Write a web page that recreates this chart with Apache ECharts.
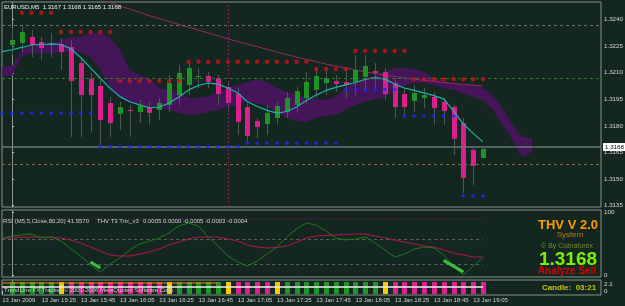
<!DOCTYPE html>
<html>
<head>
<meta charset="utf-8">
<script src="https://cdn.jsdelivr.net/npm/echarts@6.0.0/dist/echarts.min.js"></script>
<style>
html,body{margin:0;padding:0;background:#13261f;overflow:hidden;}
#chart{width:625px;height:306px;}
</style>
</head>
<body>
<div id="chart"></div>
<script>
// ---------- DATA ----------
const candleOpen = [1.32257,1.32268,1.32302,1.32274,1.32257,1.32262,1.32245,1.32155,1.32065,1.32025,
  1.31929,1.31867,1.31890,1.31878,1.31901,1.31890,1.31918,1.31974,1.32031,1.32076,
  1.32082,1.32070,1.32019,1.31980,1.31906,1.31827,1.31810,1.31844,1.31878,1.31918,
  1.31957,1.32003,1.32042,1.32053,1.32048,1.32048,1.32076,1.32110,1.32104,1.32042,
  1.31980,1.31940,1.31957,1.31963,1.31935,1.31906,1.31816,1.31664,1.31618];
const candleClose = [1.32285,1.32330,1.32257,1.32240,1.32268,1.32217,1.32053,1.31974,1.31974,1.31833,
  1.31816,1.31906,1.31887,1.31912,1.31873,1.31929,1.32042,1.32099,1.32127,1.32082,
  1.32048,1.31980,1.31929,1.31822,1.31743,1.31793,1.31873,1.31912,1.31957,1.31997,
  1.32048,1.32082,1.32070,1.32036,1.32031,1.32116,1.32138,1.32099,1.31980,1.31906,
  1.31906,1.31986,1.31974,1.31901,1.31884,1.31726,1.31505,1.31573,1.31669];
const candleLow = [1.32200,1.32217,1.32189,1.32172,1.32189,1.32116,1.31737,1.31737,1.31765,1.31686,
  1.31737,1.31777,1.31737,1.31816,1.31805,1.31833,1.31878,1.31918,1.31974,1.32014,
  1.32014,1.31918,1.31878,1.31748,1.31709,1.31731,1.31748,1.31805,1.31844,1.31873,
  1.31918,1.31957,1.31974,1.31991,1.31957,1.31974,1.31991,1.32014,1.31946,1.31844,
  1.31861,1.31878,1.31901,1.31805,1.31805,1.31635,1.31421,1.31466,1.31618];
const candleHigh = [1.32353,1.32370,1.32342,1.32302,1.32325,1.32296,1.32285,1.32183,1.32099,1.32059,
  1.31963,1.31935,1.31918,1.31946,1.31935,1.31957,1.32087,1.32144,1.32155,1.32127,
  1.32104,1.32087,1.32048,1.32014,1.31929,1.31844,1.31918,1.31935,1.31991,1.32019,
  1.32104,1.32127,1.32127,1.32087,1.32127,1.32200,1.32200,1.32155,1.32127,1.32070,
  1.32014,1.32031,1.32014,1.31991,1.31957,1.31918,1.31844,1.31680,1.31675];

// fast MA (cyan), bars -1..48
const maFast = [1.32219,1.32230,1.32243,1.32257,1.32261,1.32262,1.32260,1.32235,1.32186,1.32128,
  1.32069,1.32012,1.31965,1.31936,1.31918,1.31902,1.31905,1.31929,1.31963,1.32003,
  1.32028,1.32042,1.32036,1.32014,1.31986,1.31936,1.31909,1.31887,1.31872,1.31881,
  1.31906,1.31943,1.31974,1.32000,1.32017,1.32031,1.32045,1.32062,1.32072,1.32064,
  1.32036,1.32014,1.32000,1.31986,1.31971,1.31952,1.31884,1.31810,1.31757,1.31709];
// slow MA (maroon), bars 8..48
const maSlow = [1.32531,1.32511,1.32496,1.32477,1.32460,1.32442,1.32423,1.32406,1.32390,1.32373,
  1.32357,1.32341,1.32325,1.32308,1.32292,1.32276,1.32262,1.32247,1.32232,1.32217,
  1.32202,1.32189,1.32175,1.32163,1.32149,1.32138,1.32127,1.32115,1.32105,1.32096,
  1.32087,1.32079,1.32070,1.32063,1.32057,1.32051,1.32045,1.32039,1.32034,1.32030,1.32025];
// resistance dots (red), bars 1..48
const redDots = [1.32439,1.32439,1.32439,1.32439,
  1.32330,1.32330,1.32330,1.32330,1.32330,1.32330,
  1.32053,1.32053,1.32053,1.32053,1.32053,1.32053,1.32053,
  1.32162,1.32162,1.32162,1.32162,1.32162,1.32162,1.32162,1.32162,1.32162,1.32162,1.32162,1.32162,1.32162,
  1.32121,1.32121,1.32121,1.32121,
  1.32223,1.32223,1.32223,1.32223,1.32223,1.32223,
  1.32063,1.32063,1.32063,1.32063,1.32063,1.32063,1.32063,1.32063];
// support dots (blue), bars -1..48
const blueDots = [1.31873,1.31873,1.31873,1.31873,1.31873,1.31873,1.31873,1.31873,1.31873,1.31873,
  1.31682,1.31682,1.31682,1.31682,1.31682,1.31682,1.31682,1.31682,1.31682,1.31682,1.31682,1.31682,1.31682,1.31682,1.31682,
  1.31701,1.31701,1.31701,1.31701,1.31701,1.31701,1.31701,1.31701,1.31701,1.31701,
  1.32006,1.32006,1.32006,1.32006,1.32006,1.32006,
  1.31856,1.31856,1.31856,1.31856,1.31856,1.31856,
  1.31404,1.31404,1.31404];
// cloud, bars -1..53
const bandUpper = [1.32138,1.32138,1.32229,1.32251,1.32262,1.32268,1.32285,1.32302,1.32302,1.32325,
  1.32325,1.32296,1.32229,1.32116,1.32087,1.32070,1.32014,1.32003,1.31986,1.31957,
  1.31957,1.31969,1.31986,1.32014,1.32031,1.32048,1.32065,1.32048,1.32014,1.31991,
  1.31974,1.31963,1.31952,1.31946,1.31969,1.32014,1.32048,1.32070,1.32087,1.32104,
  1.32127,1.32127,1.32121,1.32104,1.32070,1.32053,1.32042,1.32036,1.32031,1.32014,
  1.31974,1.31901,1.31805,1.31737,1.31731];
const bandLower = [1.32076,1.32082,1.32195,1.32212,1.32212,1.32212,1.32217,1.32217,1.32217,1.32189,
  1.32116,1.32019,1.31963,1.31935,1.31918,1.31901,1.31901,1.31890,1.31873,1.31861,
  1.31867,1.31878,1.31890,1.31906,1.31918,1.31935,1.31929,1.31912,1.31873,1.31844,
  1.31827,1.31822,1.31844,1.31856,1.31861,1.31890,1.31918,1.31935,1.31952,1.31963,
  1.32003,1.32025,1.32042,1.32042,1.32031,1.32014,1.32003,1.31980,1.31963,1.31946,
  1.31890,1.31805,1.31720,1.31624,1.31652];
// horizontal levels in the price window
const levelGray = 1.32370, levelGreen = 1.32070, levelOrange = 1.31584, lastPrice = 1.3168;
const markedBar = 22;

// oscillator window, bars -1..48
const oscMain = [59.1,62.2,63.8,65.4,59.1,60.7,54.4,41.9,30.9,16.8,
  5.8,18.4,27.8,40.3,49.7,54.4,59.1,67.0,77.9,82.6,
  77.9,60.7,46.6,30.9,21.5,15.2,23.1,34.0,45.0,60.7,
  73.2,82.6,79.5,70.1,59.1,56.0,57.5,60.7,51.3,40.3,
  29.3,34.0,41.9,45.0,43.4,32.5,15.2,1.1,15.2,27.8];
const oscSignal = [59.1,59.1,60.0,60.7,60.7,60.7,59.1,56.0,51.3,45.0,
  38.7,32.5,30.9,30.9,34.0,37.2,41.9,48.1,52.8,57.5,
  60.7,60.7,60.7,57.5,54.4,48.1,45.0,43.4,44.2,46.6,
  52.8,59.1,62.2,63.0,63.8,64.6,65.4,65.4,62.2,59.1,
  56.0,52.8,49.7,46.6,45.0,40.3,35.6,32.5,29.3,29.3];
const oscHiliteA = [[8,21.5],[9,12.1]];
const oscHiliteB = [[44,24.0],[45,15.0],[46,5.8]];
const oscLevels = [88.8, 56.7, 17.6];

// trend bars, bars 0..48 (G green, M magenta, Y yellow)
const trendColors = ['G','G','G','G','G','Y','M','M','M','M','M','M','M','M','M','M','Y','G','G','G','G','G','Y','M','M','M','M','Y',
  'G','G','G','G','G','G','G','G','G','G','Y','M','M','M','M','M','M','M','M','M','M'];

// axis labels
const priceTicks = [1.3135,1.3150,1.3165,1.3180,1.3195,1.3210,1.3225,1.3240];
const timeLabelBars = [-1,3,7,11,15,19,23,27,31,35,39,43,47];
const timeLabels = ['13 Jan 2009','13 Jan 15:25','13 Jan 15:45','13 Jan 16:05','13 Jan 16:25','13 Jan 16:45',
  '13 Jan 17:05','13 Jan 17:25','13 Jan 17:45','13 Jan 18:05','13 Jan 18:25','13 Jan 18:45','13 Jan 19:05'];

// ---------- BUILD ----------
const candleBars = Array.from({length: 49}, (_, i) => i);
const lineBars = Array.from({length: 50}, (_, i) => i - 1);
const slowBars = Array.from({length: 41}, (_, i) => i + 8);
const redBars = Array.from({length: 48}, (_, i) => i + 1);
const bandBars = Array.from({length: 55}, (_, i) => i - 1);

const FONT = 'Liberation Sans';
const BG = '#13261f';
const FRAME = '#8a928e';
const GREEN = '#1f9426', MAG = '#dc1f8e', YEL = '#f2cc00';
const colorMap = {G: GREEN, M: MAG, Y: YEL};

const xMin = -1.02, xMax = 60.03;

const candleData = candleBars.map((b, i) => [b, candleOpen[i], candleClose[i], candleLow[i], candleHigh[i]]);
const zip = (xs, ys) => xs.map((x, i) => [x, ys[i]]);

function xAxisCfg(idx, showLabels) {
  const a = {type: 'value', gridIndex: idx, min: xMin, max: xMax,
    axisLine: {show: false}, splitLine: {show: false},
    axisTick: {show: false}, axisLabel: {show: false}};
  if (showLabels) {
    a.position = 'bottom';
    a.axisTick = {show: true, customValues: timeLabelBars, length: 3, lineStyle: {color: '#c8c8c8'}};
    a.axisLabel = {show: true, customValues: timeLabelBars, align: 'left', margin: 2,
      fontSize: 6, fontFamily: FONT, color: '#d4d4d4',
      formatter: v => timeLabels[timeLabelBars.indexOf(v)] || ''};
  }
  return a;
}
function yAxisCfg(idx, min, max, ticks, fmt) {
  return {type: 'value', gridIndex: idx, min, max, position: 'right', scale: true,
    axisLine: {show: true, lineStyle: {color: FRAME}},
    axisTick: {show: true, customValues: ticks, length: 2, lineStyle: {color: '#c0c0c0'}},
    axisLabel: {show: true, customValues: ticks, formatter: fmt, margin: 3,
      fontSize: 6.2, fontFamily: FONT, color: '#d8d8d8'},
    splitLine: {show: false}};
}
function txt(x, y, text, size, color, weight, align) {
  return {type: 'text', x, y, silent: true, z: 100,
    style: {text, fill: color, fontSize: size, fontWeight: weight || 'normal', fontFamily: FONT,
      align: align || 'left', verticalAlign: 'middle', textAlign: align || 'left', textVerticalAlign: 'middle'}};
}
const lineSeries = (xi, yi, data, color, width, type, z) => ({
  type: 'line', xAxisIndex: xi, yAxisIndex: yi, data, showSymbol: false, symbol: 'none',
  lineStyle: {color, width, type: type || 'solid'}, z: z || 2, silent: true, animation: false});

const option = {
  backgroundColor: BG,
  animation: false,
  grid: [
    {left: 2, top: 2, width: 599, height: 205, show: true, borderColor: FRAME, borderWidth: 1, containLabel: false, outerBoundsMode: 'none'},
    {left: 2, top: 210, width: 599, height: 67, show: true, borderColor: FRAME, borderWidth: 1, containLabel: false, outerBoundsMode: 'none'},
    {left: 2, top: 280, width: 599, height: 15, show: true, borderColor: FRAME, borderWidth: 1, containLabel: false, outerBoundsMode: 'none'}
  ],
  xAxis: [xAxisCfg(0, false), xAxisCfg(1, false), xAxisCfg(2, true)],
  yAxis: [
    yAxisCfg(0, 1.31341, 1.32500, priceTicks, v => v.toFixed(4)),
    yAxisCfg(1, -2, 103, [0, 100], v => String(v)),
    yAxisCfg(2, -1.2, 3.3, [0, 2.1], v => String(v))
  ],
  series: [
    // cloud
    {type: 'custom', xAxisIndex: 0, yAxisIndex: 0, z: 1, silent: true, clip: true,
      data: [[bandBars[0], bandUpper[0]]],
      renderItem: (params, api) => {
        const pts = [];
        for (let k = 0; k < bandBars.length; k++) pts.push(api.coord([bandBars[k], bandUpper[k]]));
        for (let k = bandBars.length - 1; k >= 0; k--) pts.push(api.coord([bandBars[k], bandLower[k]]));
        return {type: 'polygon', shape: {points: pts}, style: {fill: '#45155a'}};
      }},
    // slow MA + levels
    Object.assign(lineSeries(0, 0, zip(slowBars, maSlow), '#9a2a62', 1, 'solid', 2), {
      markLine: {silent: true, symbol: ['none', 'none'], animation: false, precision: 5, label: {show: false},
        data: [
          {yAxis: levelGray, lineStyle: {color: '#6e7270', type: [3, 3], width: 1}},
          {yAxis: levelGreen, lineStyle: {color: '#2f7a2f', type: [3, 3], width: 1}},
          {yAxis: levelOrange, lineStyle: {color: '#8c6a3c', type: [3, 3], width: 1}},
          {xAxis: markedBar, lineStyle: {color: '#7d2468', type: [2, 2], width: 1}},
          {yAxis: lastPrice, lineStyle: {color: '#66787a', type: 'solid', width: 1.5},
            label: {show: true, position: 'end', distance: 2, formatter: lastPrice.toFixed(4),
              backgroundColor: '#ffffff', color: '#000000', fontSize: 6.2, fontFamily: FONT, padding: [1, 2]}}
        ]}
    }),
    // candles
    {type: 'custom', xAxisIndex: 0, yAxisIndex: 0, z: 3, silent: true, clip: true,
      data: candleData, encode: {x: 0, y: [1, 2, 3, 4]},
      renderItem: (params, api) => {
        const x = api.value(0), o = api.value(1), c = api.value(2), l = api.value(3), h = api.value(4);
        const pO = api.coord([x, o]), pC = api.coord([x, c]), pL = api.coord([x, l]), pH = api.coord([x, h]);
        const cx = Math.round(pO[0]);
        const top = Math.min(pO[1], pC[1]), bot = Math.max(pO[1], pC[1]);
        return {type: 'group', children: [
          {type: 'line', shape: {x1: cx + 0.5, y1: pH[1], x2: cx + 0.5, y2: pL[1]}, style: {stroke: '#4a5a53', lineWidth: 1}},
          {type: 'rect', shape: {x: cx - 2, y: top, width: 5, height: Math.max(1.2, bot - top)},
            style: {fill: c >= o ? GREEN : MAG}}
        ]};
      }},
    // fast MA
    lineSeries(0, 0, zip(lineBars, maFast), '#1db3b0', 1.2, 'solid', 4),
    // dots
    {type: 'scatter', xAxisIndex: 0, yAxisIndex: 0, z: 5, silent: true, data: zip(redBars, redDots),
      symbol: 'circle', symbolSize: 4.5, itemStyle: {color: '#c8141a'}},
    {type: 'scatter', xAxisIndex: 0, yAxisIndex: 0, z: 5, silent: true, data: zip(lineBars, blueDots),
      symbol: 'diamond', symbolSize: 4.5, itemStyle: {color: '#2424ff'}},
    // oscillator window
    lineSeries(1, 1, [[lineBars[0], oscLevels[0]], [lineBars[lineBars.length - 1], oscLevels[0]]], '#8e1c6c', 1, [1, 2], 2),
    lineSeries(1, 1, [[lineBars[0], oscLevels[1]], [lineBars[lineBars.length - 1], oscLevels[1]]], '#5d6662', 1, [3, 3], 2),
    lineSeries(1, 1, [[lineBars[0], oscLevels[2]], [lineBars[lineBars.length - 1], oscLevels[2]]], '#5d6662', 1, [3, 3], 2),
    lineSeries(1, 1, zip(lineBars, oscSignal), '#b3164c', 1, 'solid', 3),
    lineSeries(1, 1, zip(lineBars, oscMain), '#1f7a1f', 1, 'solid', 3),
    lineSeries(1, 1, oscHiliteA, '#3fbf3f', 3, 'solid', 4),
    lineSeries(1, 1, oscHiliteB, '#3fbf3f', 3, 'solid', 4),
    // trend bar window
    {type: 'custom', xAxisIndex: 2, yAxisIndex: 2, z: 2, silent: true,
      data: candleBars.map(b => [b, 1]), encode: {x: 0, y: 1},
      renderItem: (params, api) => {
        const x = api.value(0);
        const pT = api.coord([x, 2.7]), pB = api.coord([x, -0.9]);
        return {type: 'rect', shape: {x: Math.round(pT[0]) - 2, y: pT[1], width: 5, height: pB[1] - pT[1]},
          style: {fill: colorMap[trendColors[params.dataIndex]]}};
      }},
    lineSeries(2, 2, [[lineBars[0], 2.4], [21, 2.4]], '#ff8a00', 1.2, 'solid', 3),
    lineSeries(2, 2, [[lineBars[0], 1.2], [48, 1.2]], '#eeeeee', 1.5, 'solid', 3)
  ],
  graphic: [
    txt(4, 7, 'EURUSD,M5  1.3167 1.3168 1.3165 1.3168', 6, '#f2f2f2'),
    txt(3, 221, 'RSI (M5,5,Close,80,20) 41.5570', 6, '#cfcfcf'),
    txt(97, 221, 'THV T3 Trix_v3', 6, '#cfcfcf'),
    txt(143, 221, '0.0005 0.0000 -0.0005 -0.0003 -0.0004', 6, '#cfcfcf'),
    txt(568, 225, 'THV V 2.0', 13, '#ff9a00', 'bold', 'center'),
    txt(570, 234.5, 'System', 8, '#c07a10', 'normal', 'center'),
    txt(567, 246, '© By Cobraforex', 7, '#6f8f2a', 'normal', 'center'),
    txt(568, 260, '1.3168', 19, '#7cf000', 'bold', 'center'),
    txt(567, 271.5, 'Analyze Sell', 10, '#d40000', 'bold', 'center'),
    txt(569, 287.5, 'Candle:  03:21', 8, '#c8c400', 'bold', 'center'),
    txt(4, 290, 'TrendLine FX Tracker © 2001-2006 MetaQuotes Software Corp.', 6, '#cfcfcf')
  ]
};
const chart = echarts.init(document.getElementById('chart'));
chart.setOption(option);
</script>
</body>
</html>
